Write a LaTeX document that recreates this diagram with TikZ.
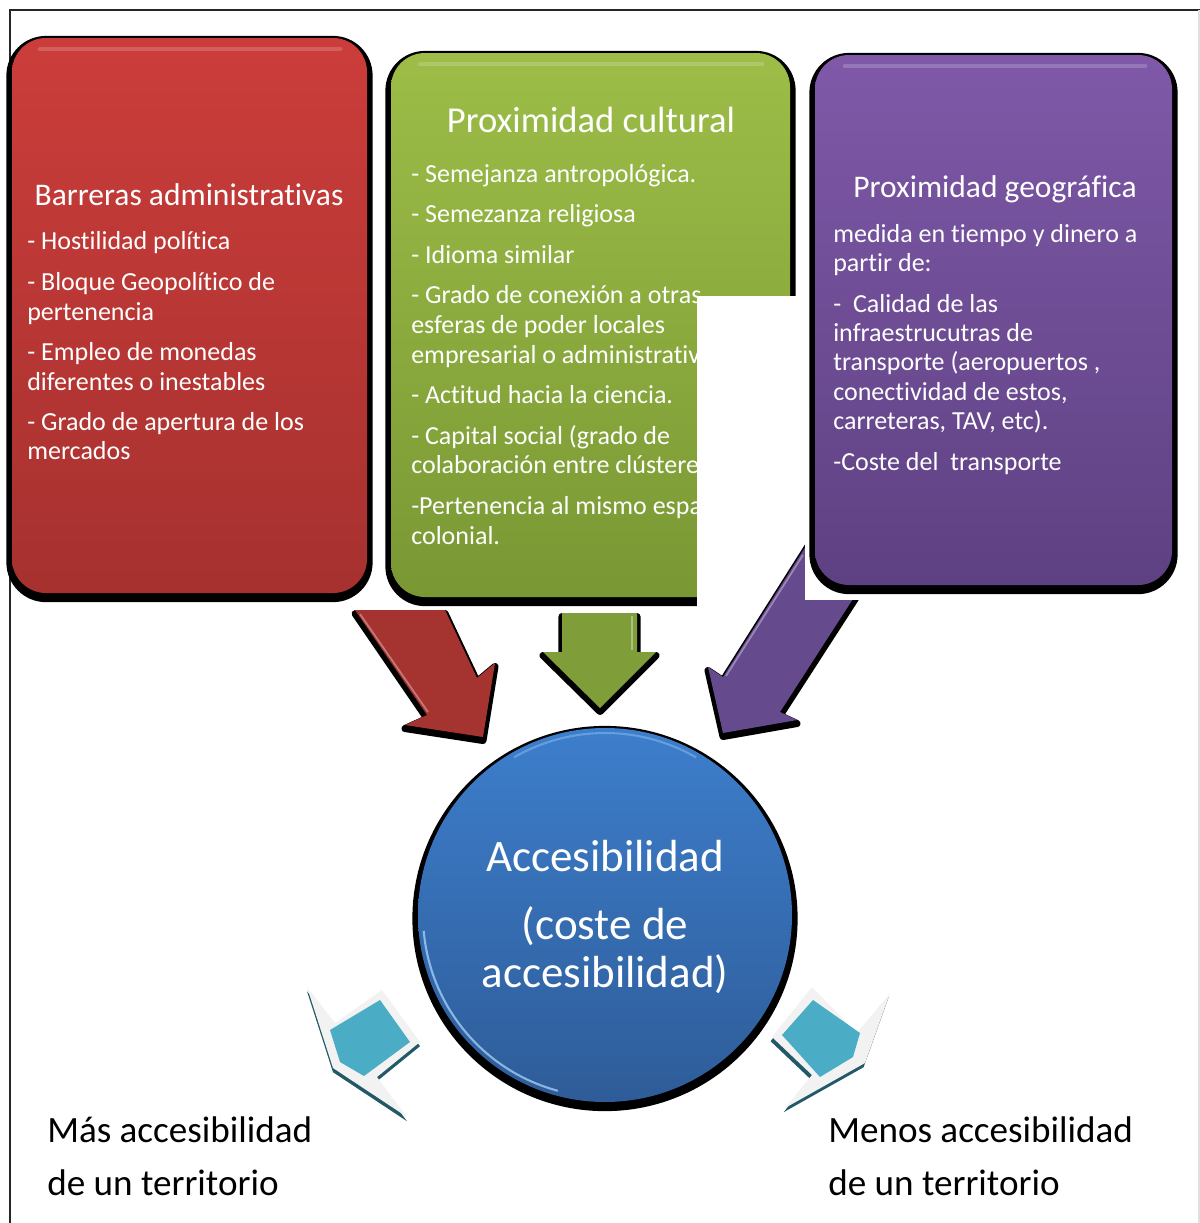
\documentclass[tikz,border=0pt]{standalone}
\usepackage{fontspec}
\setmainfont{Carlito}[Ligatures=NoCommon]
\usetikzlibrary{positioning}
\definecolor{rojo}{RGB}{203,61,58}
\definecolor{rojoosc}{RGB}{166,49,47}
\definecolor{verde}{RGB}{157,189,72}
\definecolor{verdeosc}{RGB}{121,152,52}
\definecolor{morado}{RGB}{127,89,168}
\definecolor{moradoosc}{RGB}{94,65,130}
\definecolor{azul}{RGB}{61,126,204}
\definecolor{azulosc}{RGB}{46,92,152}
\definecolor{azulclaro}{RGB}{175,220,255}
\definecolor{turquesa}{RGB}{75,172,198}
\definecolor{turquesaosc}{RGB}{33,89,104}
\definecolor{grisclaro}{RGB}{242,242,242}
\definecolor{flecharoja}{RGB}{165,51,48}
\definecolor{flechaverde}{RGB}{127,158,58}
\definecolor{flechamorada}{RGB}{102,74,142}

\tikzset{
  sombra/.style={preaction={fill=black, draw=black, line width=#1, line join=round,
      transform canvas={yshift=-2.5pt}}},
  sombra/.default=8pt,
  caja/.style={rounded corners=0.85cm, sombra},
  brillo/.style={white, opacity=0.18, line width=3.5pt, line cap=round},
  linea/.style={text=white, anchor=west, inner sep=0pt, text height=1.05em, text depth=0pt,
      yshift=-1.5pt, font=\fontsize{18.5}{21}\selectfont},
  titulo/.style={text=white, inner sep=0pt, text height=1.05em, text depth=0pt,
      yshift=-3pt, font=\fontsize{22.4}{26}\selectfont},
  centro/.style={text=white, inner sep=0pt, text height=1.05em, text depth=0pt,
      yshift=-5pt, font=\fontsize{32}{38}\selectfont},
  abajo/.style={text=black, anchor=west, inner sep=0pt, text height=1.05em, text depth=0pt,
      yshift=-4.5pt, font=\fontsize{26.4}{30}\selectfont},
}

\begin{document}
\begin{tikzpicture}[x=0.025cm, y=-0.025cm]
    \useasboundingbox (0,0) rectangle (1200,1223);

    % Khung ngoài
    \draw[line width=1.4pt, black!85] (10,1223) -- (10,10) -- (1200,10);
    \draw[line width=1pt, black!12] (1199,10) -- (1199,1223);

    % Mũi tên đỏ và mũi tên xanh lá (vẽ trước các hộp)
    \fill[flecharoja, sombra=5pt] (355,610) -- (427,715) -- (405,725) -- (483,737) -- (495,663) -- (477,678) -- (445,610) -- cycle;
    \draw[white, opacity=0.35, line width=1.2pt] (360,614) -- (428,712); % viền sáng
    \fill[flechaverde, sombra=5pt] (562,613) -- (562,652) -- (543,652) -- (600,708) -- (656,652) -- (637,652) -- (637,613) -- cycle;
    \draw[white, opacity=0.35, line width=1.2pt] (632,616) -- (632,650);

    % Hộp đỏ: Barreras administrativas
    \shade[caja, top color=rojo, bottom color=rojoosc] (12,38) rectangle (367,593);
    \draw[brillo] (40,49) -- (340,49);
    \node[titulo] (barreras) at (189,194) {Barreras administrativas};
    \node[linea] (r1) at (27,240) {- Hostilidad política};
    \node[linea] (r2) at (27,281) {- Bloque Geopolítico de};
    \node[linea] (r3) at (27,311) {pertenencia};
    \node[linea] (r4) at (27,351) {- Empleo de monedas};
    \node[linea] (r5) at (27,381) {diferentes o inestables};
    \node[linea] (r6) at (27,421) {- Grado de apertura de los};
    \node[linea] (r7) at (27,450) {mercados};

    % Hộp xanh lá: Proximidad cultural
    \shade[caja, top color=verde, bottom color=verdeosc] (391,53) rectangle (790,597);
    \draw[brillo] (420,64) -- (762,64);
    \node[titulo, font=\fontsize{26}{30}\selectfont] (cultural) at (591,121) {Proximidad cultural};
    \node[linea] (v1) at (411,173) {- Semejanza antropológica.};
    \node[linea] (v2) at (411,213) {- Semezanza religiosa};
    \node[linea] (v3) at (411,254) {- Idioma similar};
    \node[linea] (v4) at (411,294) {- Grado de conexión a otras};
    \node[linea] (v5) at (411,324) {esferas de poder locales};
    \node[linea] (v6) at (411,354) {empresarial o administrativo.};
    \node[linea] (v7) at (411,394) {- Actitud hacia la ciencia.};
    \node[linea] (v8) at (411,435) {- Capital social (grado de};
    \node[linea] (v9) at (411,464) {colaboración entre clústeres)};
    \node[linea] (v10) at (411,505) {-Pertenencia al mismo espacio};
    \node[linea] (v11) at (411,535) {colonial.};

    % Rectángulo blanco que tapa el borde derecho
    \fill[white] (697,296) rectangle (805,612);

    % Mũi tên tím
    \fill[flechamorada, sombra=5pt] (830,508) -- (723,677) -- (708,667) -- (723,733) -- (797,720) -- (780,712) -- (891,540) -- cycle;
    \draw[white, opacity=0.35, line width=1.2pt] (803,555) -- (726,676);
    \fill[white] (805,500) rectangle (900,600);

    % Hộp tím: Proximidad geográfica
    \shade[caja, top color=morado, bottom color=moradoosc] (815,55) rectangle (1172,585);
    \draw[brillo] (845,66) -- (1145,66);
    \node[titulo] (geografica) at (995,186) {Proximidad geográfica};
    \node[linea] (m1) at (833,233) {medida en tiempo y dinero a};
    \node[linea] (m2) at (833,262) {partir de:};
    \node[linea] (m3) at (833,303) {-\ \ Calidad de las};
    \node[linea] (m4) at (833,332) {infraestrucutras de};
    \node[linea] (m5) at (833,361) {transporte (aeropuertos ,};
    \node[linea] (m6) at (833,391) {conectividad de estos,};
    \node[linea] (m7) at (833,420) {carreteras, TAV, etc).};
    \node[linea] (m8) at (833,461) {-Coste del\ \ transporte};

    % Vòng tròn xanh dương: Accesibilidad
    \shade[top color=azul, bottom color=azulosc, sombra] (605,915) circle (187);
    \draw[azulclaro, opacity=0.7, line width=1.5pt] ([shift={(105:182)}]605,915) arc[start angle=105, end angle=175, radius=182];
    \draw[azulclaro, opacity=0.35, line width=1.5pt] ([shift={(240:182)}]605,915) arc[start angle=240, end angle=300, radius=182];
    \node[centro] (acc) at (605,857) {Accesibilidad};
    \node[centro] (coste) at (605,925) {(coste de};
    \node[centro] (acc2) at (605,973) {accesibilidad)};

    % Mũi tên ngọc lam bên trái
    \fill[grisclaro, preaction={fill=turquesaosc, transform canvas={yshift=-3pt}}] (307,987) -- (333,1068) -- (407,1117) -- (377,1077) -- (420,1042) -- (382,990) -- (335,1023) -- cycle;
    \fill[turquesa] (330,1030) -- (380,1000) -- (410,1042) -- (364,1076) -- (340,1062) -- cycle;

    % Mũi tên ngọc lam bên phải
    \fill[grisclaro, preaction={fill=turquesaosc, transform canvas={yshift=-3pt, xshift=-1pt}}] (772,1037) -- (812,987) -- (857,1033) -- (890,993) -- (865,1063) -- (785,1108) -- (812,1075) -- cycle;
    \fill[turquesa] (782,1035) -- (813,1000) -- (860,1033) -- (853,1057) -- (820,1077) -- cycle;

    % Nhãn phía dưới
    \node[abajo] (mas1) at (47,1129) {Más accesibilidad};
    \node[abajo] (mas2) at (47,1182) {de un territorio};
    \node[abajo] (menos1) at (828,1129) {Menos accesibilidad};
    \node[abajo] (menos2) at (828,1182) {de un territorio};
\end{tikzpicture}
\end{document}
